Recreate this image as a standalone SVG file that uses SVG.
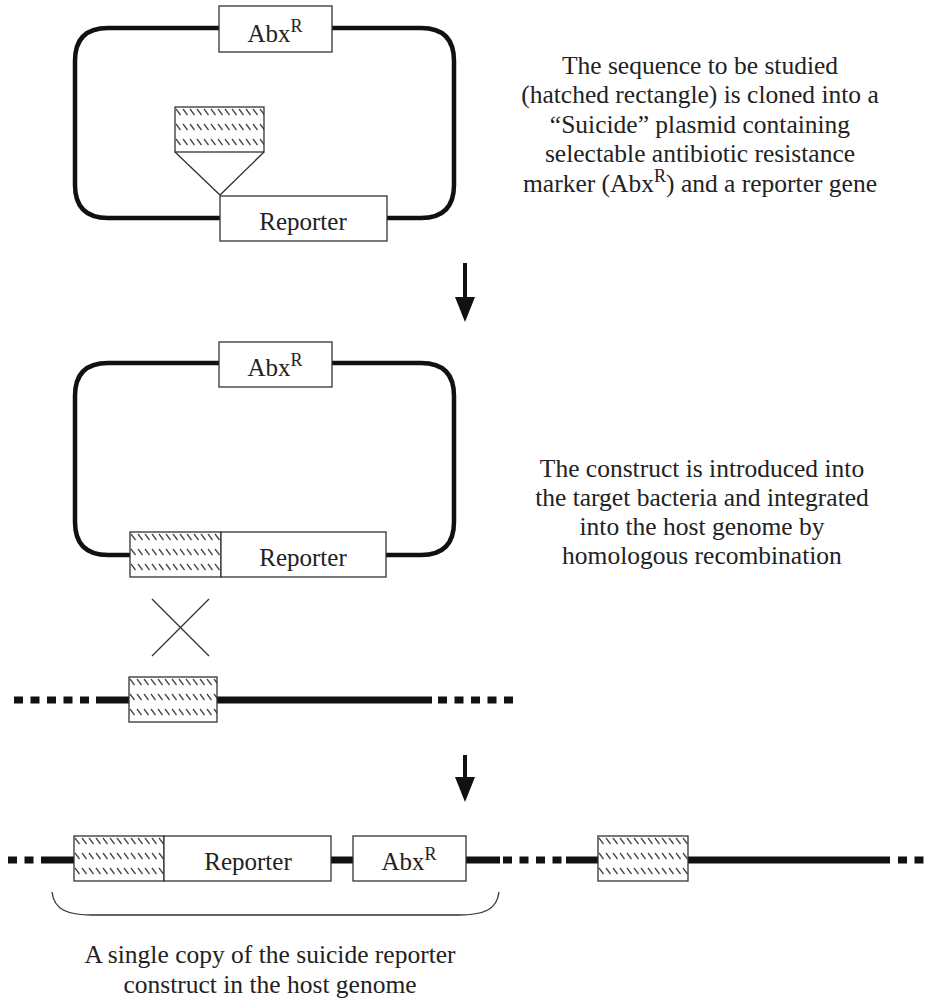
<svg xmlns="http://www.w3.org/2000/svg" width="927" height="1001" viewBox="0 0 927 1001">
<style>
.txt{font-family:"Liberation Serif","Times New Roman",serif;font-size:25.5px;fill:#222;text-anchor:middle}
.lbl{font-family:"Liberation Serif","Times New Roman",serif;font-size:25px;fill:#222;text-anchor:middle}
.sup{font-size:18px}
.box{fill:#fff;stroke:#333;stroke-width:1.3}
.hbox{fill:url(#hatch);stroke:#333;stroke-width:1.3}
.loop{fill:none;stroke:#111;stroke-width:4.5}
.dna{fill:none;stroke:#111;stroke-width:7}
.dots{fill:none;stroke:#111;stroke-width:7;stroke-dasharray:9 7.5}
.thin{fill:none;stroke:#333;stroke-width:1.3}
.arrow{stroke:#111;stroke-width:4;fill:none}
</style>
<defs>
<pattern id="hatch" patternUnits="userSpaceOnUse" width="7" height="15">
<rect width="7" height="15" fill="#fff"/>
<line x1="1" y1="2" x2="5.5" y2="8" stroke="#444" stroke-width="1.3"/>
</pattern>
<marker id="head" markerUnits="userSpaceOnUse" markerWidth="26" markerHeight="20" viewBox="0 0 26 20" refX="0" refY="10" orient="auto">
<path d="M0,0 L25,10 L0,20 z" fill="#111"/>
</marker>
</defs>

<g id="plasmid1">
<path class="loop" d="M219,28 L108,28 Q75,28 75,61 L75,185 Q75,218 108,218 L220,218 M387,218 L421,218 Q454,218 454,185 L454,61 Q454,28 421,28 L332,28"/>
<g id="p1-abx"><rect class="box" x="219" y="6" width="113" height="46"/><text class="lbl" x="275" y="42">Abx<tspan class="sup" dy="-10">R</tspan></text></g>
<g id="p1-reporter"><rect class="box" x="220" y="196" width="167" height="45"/><text class="lbl" x="303" y="230">Reporter</text></g>
<g id="p1-insert" transform="translate(175,107)"><rect class="hbox" x="0" y="0" width="89" height="45"/><path class="thin" d="M0,45 L45,88 L89,45"/></g>
</g>

<g id="plasmid2">
<path class="loop" d="M219,363 L108,363 Q75,363 75,396 L75,522 Q75,555 108,555 L130,555 M386,555 L421,555 Q454,555 454,522 L454,396 Q454,363 421,363 L332,363"/>
<g id="p2-abx"><rect class="box" x="219" y="342" width="113" height="45"/><text class="lbl" x="275" y="376">Abx<tspan class="sup" dy="-10">R</tspan></text></g>
<g id="p2-seq" transform="translate(130,532)"><rect class="hbox" x="0" y="0" width="91" height="45"/></g>
<g id="p2-reporter"><rect class="box" x="221" y="532" width="165" height="45"/><text class="lbl" x="303" y="566">Reporter</text></g>
</g>

<g id="crossover">
<path class="thin" d="M152,599 L209,656 M209,599 L152,656"/>
</g>

<g id="genome1">
<line class="dots" x1="14" y1="700" x2="90" y2="700"/>
<line class="dna" x1="96" y1="700" x2="432" y2="700"/>
<line class="dots" x1="438" y1="700" x2="513" y2="700"/>
<g id="g1-seq" transform="translate(129,677)"><rect class="hbox" x="0" y="0" width="88" height="45"/></g>
</g>

<g id="genome2">
<line class="dots" x1="8" y1="860" x2="34" y2="860"/>
<line class="dna" x1="41" y1="860" x2="500" y2="860"/>
<line class="dots" x1="503" y1="860" x2="562" y2="860"/>
<line class="dna" x1="566" y1="860" x2="890" y2="860"/>
<line class="dots" x1="898" y1="860" x2="927" y2="860"/>
<g id="g2-seq" transform="translate(74,836)"><rect class="hbox" x="0" y="0" width="90" height="45"/></g>
<g id="g2-reporter"><rect class="box" x="164" y="836" width="167" height="45"/><text class="lbl" x="248" y="870">Reporter</text></g>
<g id="g2-abx"><rect class="box" x="353" y="836" width="113" height="45"/><text class="lbl" x="409" y="870">Abx<tspan class="sup" dy="-10">R</tspan></text></g>
<g id="g2-seq2" transform="translate(598,836)"><rect class="hbox" x="0" y="0" width="90" height="45"/></g>
<path id="brace" class="thin" d="M52,892 C54,910 68,915 92,915 L459,915 C483,915 497,910 499,892"/>
</g>

<g id="connectors">
<line class="arrow" x1="465" y1="263" x2="465" y2="297" marker-end="url(#head)"/>
<line class="arrow" x1="465" y1="755" x2="465" y2="777" marker-end="url(#head)"/>
</g>

<g id="text1">
<text class="txt" x="700" y="74">The sequence to be studied</text>
<text class="txt" x="700" y="103">(hatched rectangle) is cloned into a</text>
<text class="txt" x="700" y="133">“Suicide” plasmid containing</text>
<text class="txt" x="700" y="162">selectable antibiotic resistance</text>
<text class="txt" x="700" y="192">marker (Abx<tspan class="sup" dy="-10">R</tspan><tspan dy="10">) and a reporter gene</tspan></text>
</g>

<g id="text2">
<text class="txt" x="702" y="477">The construct is introduced into</text>
<text class="txt" x="702" y="506">the target bacteria and integrated</text>
<text class="txt" x="702" y="535">into the host genome by</text>
<text class="txt" x="702" y="564">homologous recombination</text>
</g>

<g id="caption">
<text class="txt" x="270" y="963">A single copy of the suicide reporter</text>
<text class="txt" x="270" y="993">construct in the host genome</text>
</g>
</svg>
